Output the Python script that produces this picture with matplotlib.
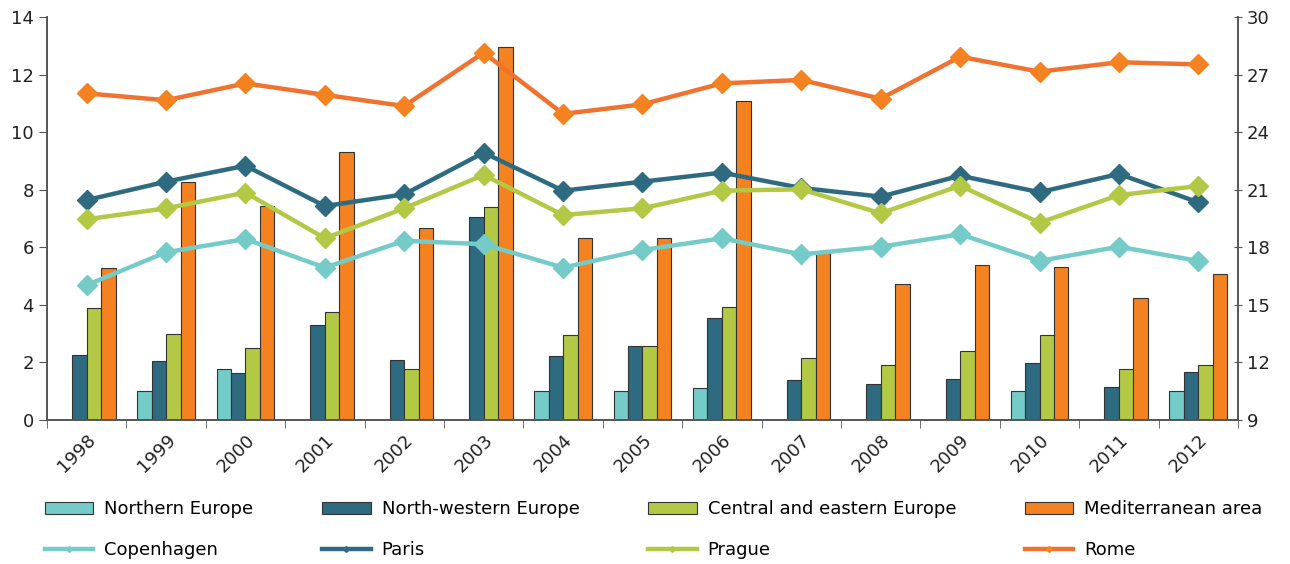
import numpy as np
import matplotlib
matplotlib.use('Agg')
import matplotlib.pyplot as plt

plt.rcParams['font.family'] = ['DejaVu Sans']

years = [str(y) for y in range(1998, 2013)]
nan = np.nan

# bars (left axis)
northern = [nan, 1.02, 1.76, nan, nan, nan, 1.01, 1.01, 1.11, nan, nan, nan, 1.01, nan, 1.01]
north_western = [2.26, 2.05, 1.63, 3.30, 2.07, 7.04, 2.22, 2.58, 3.54, 1.39, 1.26, 1.41, 1.97, 1.16, 1.66]
central_eastern = [3.90, 2.98, 2.49, 3.74, 1.76, 7.39, 2.94, 2.57, 3.91, 2.16, 1.91, 2.39, 2.95, 1.78, 1.91]
mediterranean = [5.27, 8.26, 7.44, 9.32, 6.68, 12.94, 6.31, 6.31, 11.09, 5.80, 4.72, 5.38, 5.33, 4.23, 5.08]

# lines (right axis)
copenhagen = [16.03, 17.74, 18.43, 16.94, 18.34, 18.16, 16.94, 17.86, 18.47, 17.63, 18.03, 18.68, 17.29, 18.03, 17.29]
paris = [20.46, 21.42, 22.25, 20.15, 20.76, 22.93, 20.95, 21.42, 21.89, 21.09, 20.64, 21.73, 20.87, 21.82, 20.34]
prague = [19.46, 20.03, 20.85, 18.47, 20.03, 21.77, 19.68, 20.03, 20.95, 21.02, 19.77, 21.21, 19.28, 20.72, 21.19]
rome = [26.02, 25.66, 26.54, 25.94, 25.36, 28.14, 24.95, 25.45, 26.54, 26.72, 25.74, 27.93, 27.15, 27.64, 27.53]

c_north = '#74CBC8'
c_nw = '#2E6B80'
c_ce = '#B3C945'
c_med = '#F58220'
c_rome = '#EF7230'

fig = plt.figure(figsize=(12.9, 5.64), dpi=100)
ax = fig.add_axes([0.0364, 0.2553, 0.9233, 0.7146])
ax2 = ax.twinx()

x = np.arange(len(years))
w = 0.182
edge = dict(edgecolor='#333333', linewidth=0.8)
b1 = ax.bar(x - 1.5 * w, northern, w, color=c_north, label='Northern Europe', **edge)
b2 = ax.bar(x - 0.5 * w, north_western, w, color=c_nw, label='North-western Europe', **edge)
b3 = ax.bar(x + 0.5 * w, central_eastern, w, color=c_ce, label='Central and eastern Europe', **edge)
b4 = ax.bar(x + 1.5 * w, mediterranean, w, color=c_med, label='Mediterranean area', **edge)

lw = 3.2
ms = 10
l1, = ax2.plot(x, copenhagen, color=c_north, lw=lw, marker='D', ms=ms, label='Copenhagen')
l2, = ax2.plot(x, paris, color=c_nw, lw=lw, marker='D', ms=ms, label='Paris')
l3, = ax2.plot(x, prague, color=c_ce, lw=lw, marker='D', ms=ms, label='Prague')
l4, = ax2.plot(x, rome, color=c_rome, lw=lw, marker='D', ms=ms, mfc=c_med, mec=c_med, label='Rome')

ax.set_xlim(-0.5, len(years) - 0.5)
ax.set_ylim(0, 14)
ax.set_yticks(range(0, 15, 2))
ax2.set_ylim(9, 30)
ax2.set_yticks(range(9, 31, 3))

ax.set_xticks(x)
ax.set_xticklabels(years, rotation=45, ha='right', va='top', rotation_mode='anchor')
ax.set_xticks(np.arange(-0.5, len(years), 1), minor=True)
ax.tick_params(axis='x', which='major', length=0, pad=8, labelsize=13, colors='#222222')
ax.tick_params(axis='x', which='minor', length=6, direction='out', color='#555555')
ax.tick_params(axis='y', length=6, direction='out', color='#555555', labelsize=13, labelcolor='#222222')
ax2.tick_params(axis='y', length=6, direction='inout', color='#555555', labelsize=13, labelcolor='#222222')

for a in (ax, ax2):
    a.spines['top'].set_visible(False)
    for s in ('left', 'right', 'bottom'):
        a.spines[s].set_color('#555555')
        a.spines[s].set_linewidth(1.2)

handles = [b1, l1, b2, l2, b3, l3, b4, l4]
labels = [h.get_label() for h in handles]
fig.legend(handles, labels, loc='lower left', bbox_to_anchor=(0.022, -0.02), ncol=4,
           frameon=False, fontsize=13, handlelength=2.7, handletextpad=0.6,
           columnspacing=3.8, labelspacing=1.25, markerscale=0.3)

fig.savefig('out.png', dpi=100)
